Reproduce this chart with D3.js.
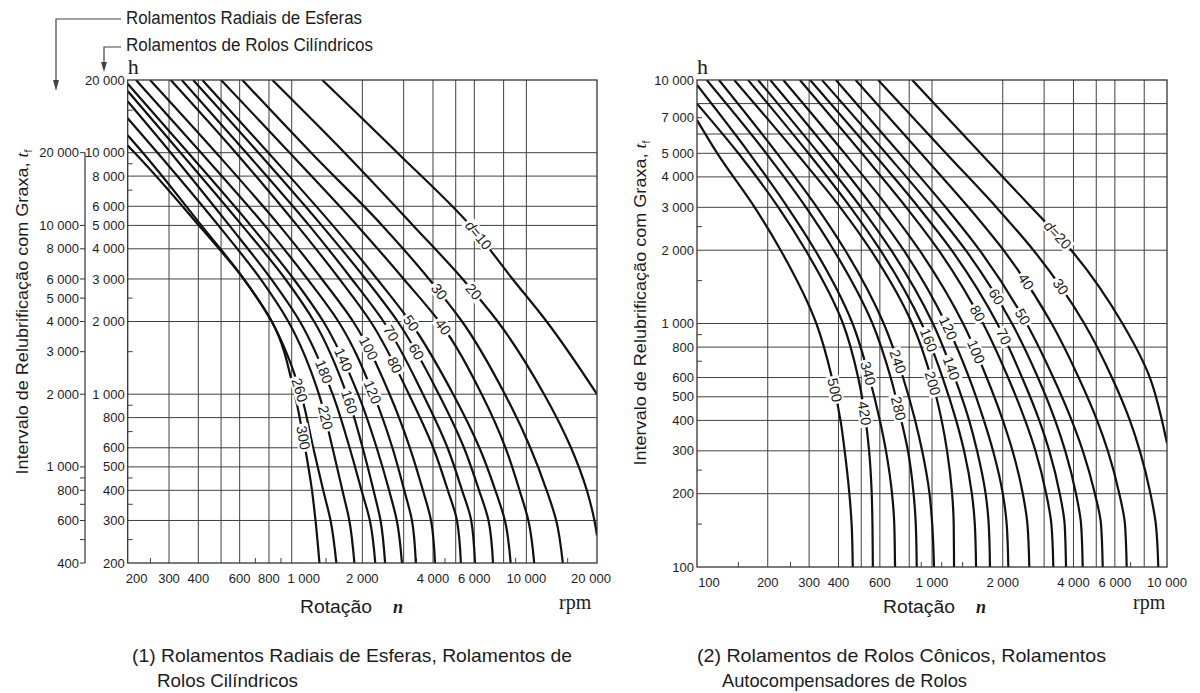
<!DOCTYPE html>
<html>
<head>
<meta charset="utf-8">
<script src="https://cdn.jsdelivr.net/npm/d3@7"></script>
<style>
  body { margin: 0; background: #fff; }
  svg { display: block; }
  text { font-family: "Liberation Sans", Arial, sans-serif; fill: #1c1c1c; }
  .serif { font-family: "Liberation Serif", "DejaVu Serif", serif; }
</style>
</head>
<body>
<script>
// ---- chart (1): ball bearings / cylindrical roller bearings ----
var leftBores = [10, 20, 30, 40, 50, 60, 70, 80, 100, 120, 140, 160, 180, 220, 260, 300];

// [rotation rpm, interval h] (cylindrical roller scale)
var leftCurves = [
  [[1350,20000],[2820,10000],[5770,5000],[8730,3000],[12200,2000],[20000,1000]],
  [[827,20000],[1680,10000],[3290,5000],[5350,3000],[7550,2000],[11900,1000],[15500,600],[18100,400],[19500,300],[20000,260]],
  [[616,20000],[1210,10000],[2430,5000],[4250,2660],[5320,2000],[8100,1000],[10400,600],[12200,400],[13400,300],[14300,200]],
  [[500,20000],[980,10000],[1900,5000],[3000,3000],[4250,2000],[6450,1000],[8150,600],[9350,400],[10200,300],[10800,200]],
  [[416,20000],[795,10000],[1496,5000],[2311,3000],[3192,2000],[4876,1000],[6308,600],[7375,400],[8100,300],[8570,200]],
  [[380,20000],[721,10000],[1341,5000],[2064,3000],[2829,2000],[4236,1000],[5422,600],[6285,400],[6898,300],[7210,200]],
  [[340,20000],[640,10000],[1186,5000],[1802,3000],[2462,2000],[3625,1000],[4614,600],[5320,400],[5821,300],[6040,200]],
  [[305,20000],[578,10000],[1054,5000],[1597,3000],[2167,2000],[3158,1000],[4010,600],[4626,400],[5061,300],[5260,200]],
  [[249,20000],[476,10000],[885,5000],[1344,3000],[1827,2000],[2613,1000],[3189,600],[3623,400],[3924,300],[4080,200]],
  [[217,20000],[411,10000],[767,5000],[1167,3000],[1581,2000],[2230,1000],[2686,600],[3017,400],[3254,300],[3380,200]],
  [[200,19300],[362,10000],[668,5000],[1019,3000],[1364,2000],[1918,1000],[2302,600],[2600,400],[2804,300],[2950,200]],
  [[200,18000],[336,10000],[614,5000],[939,3000],[1246,2000],[1715,1000],[2006,600],[2231,400],[2391,300],[2500,200]],
  [[200,16300],[305,10000],[542,5000],[817,3000],[1083,2000],[1494,1000],[1765,600],[1983,400],[2153,300],[2270,200]],
  [[200,13900],[268,10000],[487,5000],[736,3000],[967,2000],[1306,1000],[1492,600],[1644,400],[1760,300],[1850,200]],
  [[200,11800],[232,10000],[412,5000],[625,3000],[821,2000],[1095,1000],[1235,600],[1362,400],[1464,300],[1550,200]],
  [[200,10700],[214,10000],[402,5000],[624,3000],[823,2000],[1030,1000],[1140,600],[1220,400],[1263,300],[1313,200]]
];
// interval (h) at which each bore label sits on its curve
var leftLabelAt = [4560, 2660, 2660, 1900, 1970, 1500, 1790, 1320, 1550, 1020, 1390, 930, 1240, 800, 1040, 660];

var leftXGrid = [300, 400, 500, 600, 800, 1000, 2000, 3000, 4000, 5000, 6000, 8000, 10000];
var leftXMinor = [250, 700, 900, 1400, 3400, 4500, 9000, 15000];
var leftXLabels = [200, 300, 400, 600, 800, 1000, 2000, 4000, 6000, 10000, 20000];
var leftYGrid = [10000, 8000, 6000, 5000, 4000, 3000, 2000, 1000, 800, 600, 500, 400, 300];
var leftYMinor = [15000, 9000, 7000, 2500, 1500, 900, 700, 450, 350, 250];
var leftYLabels = [20000, 10000, 8000, 6000, 5000, 4000, 3000, 2000, 1000, 800, 600, 500, 400, 300, 200];
var ballYLabels = [20000, 10000, 8000, 6000, 5000, 4000, 3000, 2000, 1000, 800, 600, 400];
var ballYMinor = [900, 700, 500];

// ---- chart (2): tapered / spherical roller bearings ----
var rightBores = [20, 30, 40, 50, 60, 70, 80, 100, 120, 140, 160, 200, 240, 280, 340, 420, 500];

var rightCurves = [
  [[824,10000],[1609,5000],[2647,3000],[3913,2000],[6464,1000],[8455,600],[9520,400],[10000,322]],
  [[590,10000],[1147,5000],[1879,3000],[2702,2000],[4446,1000],[5829,600],[6950,400],[7663,300],[8506,200],[8963,150],[9180,100]],
  [[473,10000],[897,5000],[1430,3000],[2015,2000],[3229,1000],[4207,600],[5040,400],[5601,300],[6267,200],[6623,150],[6736,100]],
  [[390,10000],[728,5000],[1144,3000],[1594,2000],[2525,1000],[3281,600],[3930,400],[4382,300],[4934,200],[5238,150],[5326,100]],
  [[340,10000],[637,5000],[999,3000],[1391,2000],[2190,1000],[2823,600],[3342,400],[3689,300],[4100,200],[4308,150],[4378,100]],
  [[303,10000],[563,5000],[876,3000],[1212,2000],[1895,1000],[2417,600],[2861,400],[3156,300],[3497,200],[3668,150],[3717,100]],
  [[274,10000],[503,5000],[777,3000],[1067,2000],[1649,1000],[2107,600],[2491,400],[2756,300],[3061,200],[3221,150],[3283,100]],
  [[233,10000],[425,5000],[650,3000],[884,2000],[1356,1000],[1709,600],[2002,400],[2201,300],[2435,200],[2547,150],[2594,100]],
  [[205,10000],[371,5000],[561,3000],[758,2000],[1146,1000],[1438,600],[1663,400],[1818,300],[2001,200],[2079,150],[2112,100]],
  [[182,10000],[329,5000],[498,3000],[670,2000],[1009,1000],[1250,600],[1439,400],[1555,300],[1691,200],[1743,150],[1765,100]],
  [[165,10000],[298,5000],[450,3000],[603,2000],[903,1000],[1109,600],[1267,400],[1369,300],[1478,200],[1521,150],[1540,100]],
  [[144,10000],[265,5000],[407,3000],[549,2000],[823,1000],[991,600],[1099,400],[1159,300],[1218,200],[1237,150],[1241,100]],
  [[124,10000],[219,5000],[324,3000],[427,2000],[623,1000],[753,600],[848,400],[908,300],[976,200],[1002,150],[1020,100]],
  [[110,10000],[197,5000],[291,3000],[382,2000],[558,1000],[667,600],[740,400],[790,300],[835,200],[853,150],[861,100]],
  [[100,9540],[167,5000],[243,3000],[318,2000],[459,1000],[541,600],[600,400],[637,300],[676,200],[691,150],[696,100]],
  [[100,8000],[150,5000],[222,3000],[290,2000],[418,1000],[485,600],[522,400],[540,300],[554,200],[558,150],[560,100]],
  [[100,6850],[122,5000],[176,3000],[227,2000],[322,1000],[375,600],[408,400],[425,300],[445,200],[455,150],[460,100]]
];
var rightLabelAt = [2310, 1416, 1485, 1066, 1289, 883, 1101, 766, 956, 655, 855, 568, 697, 448, 624, 428, 533];

var rightXGrid = [200, 300, 400, 500, 600, 800, 1000, 2000, 3000, 4000, 5000, 6000, 8000];
var rightXMinor = [150, 250, 700, 900, 1100, 1350, 7000];
var rightXLabels = [100, 200, 300, 400, 600, 1000, 2000, 4000, 6000, 10000];
var rightYGrid = [8000, 6000, 5000, 4000, 3000, 2000, 1000, 800, 600, 500, 400, 300, 200];
var rightYMinor = [7000, 2500, 1500, 900, 700, 250, 150];
var rightYLabels = [10000, 7000, 5000, 4000, 3000, 2000, 1000, 800, 600, 500, 400, 300, 200, 100];

var svg = d3.select("body").append("svg")
            .attr("width", 1200)
            .attr("height", 693);

var fmt = function (v) { return d3.format(",")(v).replace(/,/g, " "); };

function drawChart(o) {
    var x = d3.scaleLog().domain(o.xDomain).range([o.x0, o.x1]);
    var y = d3.scaleLog().domain(o.yDomain).range([o.y1, o.y0]);
    var g = svg.append("g");

    // grid
    var grid = g.append("g").attr("stroke", "#404040").attr("stroke-width", 1);
    grid.selectAll("line.v").data(o.xGrid).enter().append("line")
        .attr("x1", function (d) { return x(d); })
        .attr("x2", function (d) { return x(d); })
        .attr("y1", o.y0).attr("y2", o.y1);
    grid.selectAll("line.h").data(o.yGrid).enter().append("line")
        .attr("x1", o.x0).attr("x2", o.x1)
        .attr("y1", function (d) { return y(d); })
        .attr("y2", function (d) { return y(d); });
    grid.selectAll("line.mx").data(o.xMinor).enter().append("line")
        .attr("x1", function (d) { return x(d); })
        .attr("x2", function (d) { return x(d); })
        .attr("y1", o.y1).attr("y2", o.y1 - 5);
    grid.selectAll("line.my").data(o.yMinor).enter().append("line")
        .attr("x1", o.x0).attr("x2", o.x0 + 5)
        .attr("y1", function (d) { return y(d); })
        .attr("y2", function (d) { return y(d); });

    // curves
    g.append("clipPath").attr("id", o.id + "-clip")
     .append("rect")
     .attr("x", o.x0).attr("y", o.y0)
     .attr("width", o.x1 - o.x0).attr("height", o.y1 - o.y0);

    var line = d3.line()
                 .x(function (d) { return x(d[0]); })
                 .y(function (d) { return y(d[1]); })
                 .curve(d3.curveMonotoneY);

    var paths = g.append("g")
                 .attr("clip-path", "url(#" + o.id + "-clip)")
                 .selectAll("path").data(o.curves).enter().append("path")
                 .attr("d", line)
                 .attr("fill", "none")
                 .attr("stroke", "#111")
                 .attr("stroke-width", 2.2);

    // frame
    g.append("rect")
     .attr("x", o.x0).attr("y", o.y0)
     .attr("width", o.x1 - o.x0).attr("height", o.y1 - o.y0)
     .attr("fill", "none").attr("stroke", "#333").attr("stroke-width", 1.3);

    // bore labels sitting on the curves
    var labels = g.append("g");
    paths.each(function (pts, i) {
        var node = this;
        var yt = y(o.labelAt[i]);
        var lo = 0, hi = node.getTotalLength();
        for (var k = 0; k < 30; k++) {
            var m = (lo + hi) / 2;
            if (node.getPointAtLength(m).y < yt) lo = m; else hi = m;
        }
        var p = node.getPointAtLength(lo);
        var a = node.getPointAtLength(Math.max(0, lo - 5));
        var b = node.getPointAtLength(lo + 5);
        var ang = Math.atan2(b.y - a.y, b.x - a.x) * 180 / Math.PI;
        var lg = labels.append("g")
                       .attr("transform", "translate(" + p.x + "," + p.y + ") rotate(" + ang + ")");
        var t = lg.append("text")
                  .attr("text-anchor", "middle")
                  .attr("dy", "0.35em")
                  .attr("font-size", 14.5);
        if (i === 0) {
            t.append("tspan").attr("font-style", "italic").text("d");
            t.append("tspan").text("=" + o.bores[i]);
        } else {
            t.text(o.bores[i]);
        }
        var bb = t.node().getBBox();
        lg.insert("rect", "text")
          .attr("x", bb.x - 2).attr("y", bb.y + 1)
          .attr("width", bb.width + 4).attr("height", bb.height - 2)
          .attr("fill", "#fff");
    });

    // tick labels
    g.selectAll("text.xl").data(o.xLabels).enter().append("text")
     .attr("x", function (d) { return x(d) + (o.xShift[d] || 0); })
     .attr("y", o.y1 + 20)
     .attr("text-anchor", "middle")
     .attr("font-size", 13)
     .text(fmt);
    g.selectAll("text.yl").data(o.yLabels).enter().append("text")
     .attr("x", o.x0 - 3)
     .attr("y", function (d) { return y(d); })
     .attr("dy", "0.35em")
     .attr("text-anchor", "end")
     .attr("font-size", 13)
     .text(fmt);

    // axis titles
    g.append("text").attr("class", "serif")
     .attr("x", o.x0).attr("y", 74)
     .attr("font-size", 22).text("h");

    var yt = g.append("text")
              .attr("transform", "translate(" + o.titleX + "," + o.titleY + ") rotate(-90)")
              .attr("text-anchor", "middle")
              .attr("font-size", 17)
              .attr("textLength", 325)
              .attr("lengthAdjust", "spacingAndGlyphs");
    yt.append("tspan").text("Intervalo de Relubrificação com Graxa, ");
    yt.append("tspan").attr("class", "serif").attr("font-style", "italic").text("t");
    yt.append("tspan").attr("font-size", 10).attr("dy", 4).text("f");

    g.append("text")
     .attr("x", o.rotX).attr("y", 613)
     .attr("font-size", 18)
     .attr("textLength", 72).attr("lengthAdjust", "spacingAndGlyphs")
     .text("Rotação");
    g.append("text").attr("class", "serif")
     .attr("x", o.rotX + 93).attr("y", 613)
     .attr("font-size", 18).attr("font-style", "italic").attr("font-weight", "bold")
     .text("n");
    g.append("text").attr("class", "serif")
     .attr("x", o.rpmX).attr("y", 609)
     .attr("font-size", 20)
     .text("rpm");

    // caption
    g.append("text")
     .attr("x", o.capX).attr("y", 662)
     .attr("font-size", 19)
     .attr("textLength", o.capLen[0]).attr("lengthAdjust", "spacingAndGlyphs")
     .text(o.caption[0]);
    g.append("text")
     .attr("x", o.capX + 25).attr("y", 687)
     .attr("font-size", 19)
     .attr("textLength", o.capLen[1]).attr("lengthAdjust", "spacingAndGlyphs")
     .text(o.caption[1]);

    return { x: x, y: y, g: g };
}

drawChart({
    id: "c1",
    xDomain: [200, 20000], yDomain: [200, 20000],
    x0: 127.7, x1: 597, y0: 80, y1: 563,
    xGrid: leftXGrid, yGrid: leftYGrid, xMinor: leftXMinor, yMinor: leftYMinor,
    xLabels: leftXLabels, yLabels: leftYLabels, xShift: { 200: 9, 1000: 12, 20000: -6 },
    curves: leftCurves, bores: leftBores, labelAt: leftLabelAt,
    titleX: 28, titleY: 312, rotX: 300, rpmX: 559,
    capX: 132, capLen: [440, 141],
    caption: ["(1) Rolamentos Radiais de Esferas, Rolamentos de", "Rolos Cilíndricos"]
});

drawChart({
    id: "c2",
    xDomain: [100, 10000], yDomain: [100, 10000],
    x0: 697, x1: 1167, y0: 80, y1: 567,
    xGrid: rightXGrid, yGrid: rightYGrid, xMinor: rightXMinor, yMinor: rightYMinor,
    xLabels: rightXLabels, yLabels: rightYLabels, xShift: { 100: 12 },
    curves: rightCurves, bores: rightBores, labelAt: rightLabelAt,
    titleX: 646, titleY: 303, rotX: 883, rpmX: 1133,
    capX: 697, capLen: [409, 245],
    caption: ["(2) Rolamentos de Rolos Cônicos, Rolamentos", "Autocompensadores de Rolos"]
});

// second scale on chart (1) for radial ball bearings (twice the roller interval)
var ballY = d3.scaleLog().domain([400, 40000]).range([563, 80]);
var axisX = 85;
var outer = svg.append("g");
outer.append("line")
     .attr("x1", axisX).attr("x2", axisX)
     .attr("y1", ballY(20000)).attr("y2", ballY(400))
     .attr("stroke", "#333").attr("stroke-width", 1.2);
outer.selectAll("line.t").data(ballYLabels.concat(ballYMinor)).enter().append("line")
     .attr("x1", axisX - 5).attr("x2", axisX)
     .attr("y1", function (d) { return ballY(d); })
     .attr("y2", function (d) { return ballY(d); })
     .attr("stroke", "#333");
outer.selectAll("text").data(ballYLabels).enter().append("text")
     .attr("x", axisX - 6)
     .attr("y", function (d) { return ballY(d); })
     .attr("dy", "0.35em")
     .attr("text-anchor", "end")
     .attr("font-size", 13)
     .text(fmt);

// bearing type pointers above chart (1)
var ann = svg.append("g");
ann.append("path").attr("d", "M121,19H56V82").attr("fill", "none").attr("stroke", "#444").attr("stroke-width", 1.2);
ann.append("path").attr("d", "M53,80L59,80L56,91Z").attr("fill", "#444");
ann.append("path").attr("d", "M121,47H104V64").attr("fill", "none").attr("stroke", "#444").attr("stroke-width", 1.2);
ann.append("path").attr("d", "M101,62L107,62L104,72Z").attr("fill", "#444");
ann.append("text").attr("x", 126).attr("y", 24).attr("font-size", 18)
   .attr("textLength", 236).attr("lengthAdjust", "spacingAndGlyphs")
   .text("Rolamentos Radiais de Esferas");
ann.append("text").attr("x", 126).attr("y", 51).attr("font-size", 18)
   .attr("textLength", 247).attr("lengthAdjust", "spacingAndGlyphs")
   .text("Rolamentos de Rolos Cilíndricos");
</script>
</body>
</html>
